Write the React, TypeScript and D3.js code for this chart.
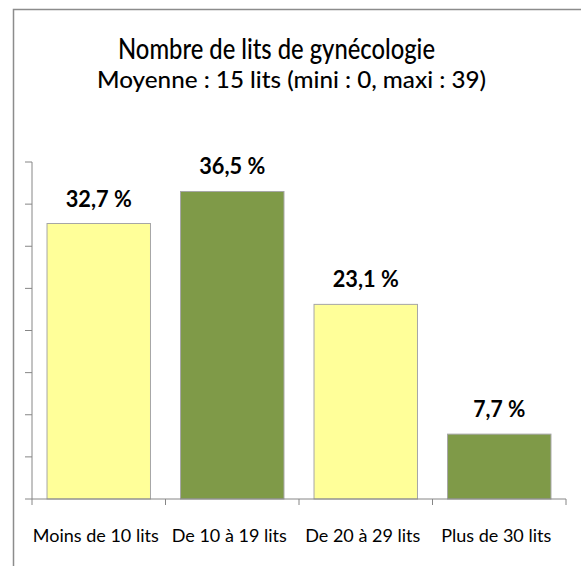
import React from "react";
import * as d3 from "d3";

const categories = ["Moins de 10 lits", "De 10 à 19 lits", "De 20 à 29 lits", "Plus de 30 lits"];
const values = [32.7, 36.5, 23.1, 7.7];
const labels = ["32,7 %", "36,5 %", "23,1 %", "7,7 %"];
const colors = ["#ffff99", "#7f9a48", "#ffff99", "#7f9a48"];
const yTicks = [0, 5, 10, 15, 20, 25, 30, 35, 40];

const W = 581;
const H = 566;
const font = "Lato, 'Open Sans', sans-serif";

const App = () => {
  const margin = { left: 32, right: 15, top: 162, bottom: 67 };

  const x = d3
    .scaleBand<string>()
    .domain(categories)
    .range([margin.left, W - margin.right])
    .paddingInner(0.225)
    .paddingOuter(0.1125);

  // band ticks sit on the edges between categories
  const step = x.step();
  const edges = d3.range(categories.length + 1).map((i) => margin.left + i * step);

  const y = d3
    .scaleLinear()
    .domain([0, 40])
    .range([H - margin.bottom, margin.top]);

  const axisColor = "#868686";

  return (
    <svg
      width={W}
      height={H}
      style={{ position: "absolute", left: 0, top: 0, background: "#fff" }}
    >
      {/* outer chart frame, cut off at right and bottom */}
      <rect x={13.5} y={9.5} width={W} height={H} fill="#fff" stroke="#8c8c8c" strokeWidth={1.5} />

      <text
        x={276.5}
        y={59}
        textAnchor="middle"
        fontFamily={font}
        fontSize={29}
        fontWeight={500}
        fill="#000"
        textLength={317}
        lengthAdjust="spacingAndGlyphs"
      >
        Nombre de lits de gynécologie
      </text>
      <text
        x={291.5}
        y={88}
        textAnchor="middle"
        fontFamily={font}
        fontSize={23}
        fontWeight={500}
        fill="#000"
        textLength={389}
        lengthAdjust="spacingAndGlyphs"
      >
        Moyenne : 15 lits (mini : 0, maxi : 39)
      </text>

      {/* y axis */}
      <line x1={margin.left} x2={margin.left} y1={y(40)} y2={y(0)} stroke={axisColor} />
      {yTicks.map((t) => (
        <line key={t} x1={margin.left - 7} x2={margin.left} y1={y(t)} y2={y(t)} stroke={axisColor} />
      ))}

      {/* bars */}
      {categories.map((c, i) => (
        <g key={c}>
          <rect
            x={x(c)}
            y={y(values[i])}
            width={x.bandwidth()}
            height={y(0) - y(values[i])}
            fill={colors[i]}
            stroke="#a6a6a6"
            strokeWidth={1}
          />
          <text
            x={(x(c) ?? 0) + x.bandwidth() / 2}
            y={y(values[i]) - 17}
            textAnchor="middle"
            fontFamily={font}
            fontSize={23}
            fontWeight="bold"
            fill="#000"
            textLength={values[i] < 10 ? 52 : 66}
            lengthAdjust="spacingAndGlyphs"
          >
            {labels[i]}
          </text>
          <text
            x={(x(c) ?? 0) + x.bandwidth() / 2 - 3}
            y={542}
            textAnchor="middle"
            fontFamily={font}
            fontSize={18}
            fill="#000"
          >
            {c}
          </text>
        </g>
      ))}

      {/* x axis */}
      <line x1={margin.left} x2={W - margin.right} y1={y(0)} y2={y(0)} stroke={axisColor} />
      {edges.map((e, i) => (
        <line key={i} x1={e} x2={e} y1={y(0)} y2={y(0) + 6} stroke={axisColor} />
      ))}
    </svg>
  );
};

export default App;
